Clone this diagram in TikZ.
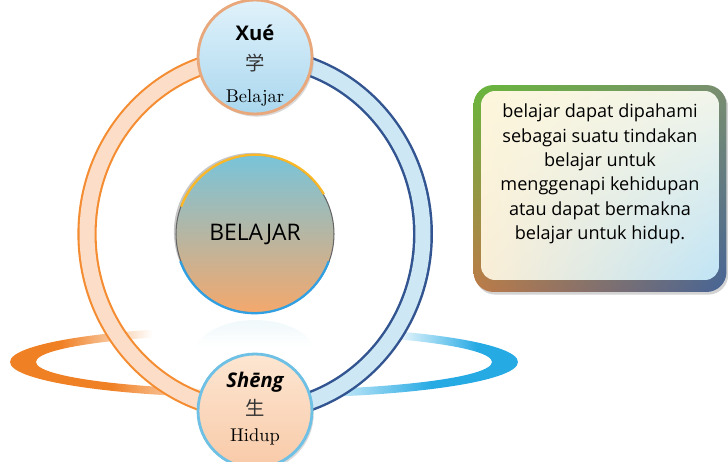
\documentclass[tikz,border=0pt]{standalone}
\usepackage{fontspec}
\usepackage{tikz}
\usetikzlibrary{positioning, shadows, shadings, backgrounds, calc}
\newfontfamily\comicfont{Open Sans}
\newfontfamily\hanzifont{Noto Sans CJK SC}

\definecolor{ringOrangeD}{RGB}{244,140,50}
\definecolor{ringOrangeL}{RGB}{252,222,200}
\definecolor{ringBlueD}{RGB}{50,84,144}
\definecolor{ringBlueL}{RGB}{205,231,245}
\definecolor{orbitL}{RGB}{240,128,36}
\definecolor{orbitR}{RGB}{38,170,228}
\definecolor{hubTop}{RGB}{120,196,218}
\definecolor{hubMid}{RGB}{212,184,160}
\definecolor{hubBot}{RGB}{244,168,108}
\definecolor{hubArcTop}{RGB}{250,184,40}
\definecolor{hubArcBot}{RGB}{48,160,226}
\definecolor{xueTop}{RGB}{224,242,251}
\definecolor{xueBot}{RGB}{170,215,238}
\definecolor{xueRim}{RGB}{232,168,124}
\definecolor{shengTop}{RGB}{253,230,210}
\definecolor{shengBot}{RGB}{248,202,168}
\definecolor{shengRim}{RGB}{110,192,228}
\definecolor{frameUL}{RGB}{104,182,60}
\definecolor{frameUR}{RGB}{122,142,112}
\definecolor{frameLL}{RGB}{190,122,72}
\definecolor{frameLR}{RGB}{70,100,150}
\definecolor{panelUL}{RGB}{253,246,220}
\definecolor{panelUR}{RGB}{242,245,234}
\definecolor{panelLL}{RGB}{250,238,214}
\definecolor{panelLR}{RGB}{192,228,246}

\pgfdeclarehorizontalshading{orbitTL}{100bp}{color(0bp)=(orbitL); color(35bp)=(orbitL); color(53bp)=(white); color(100bp)=(white)}
\pgfdeclarehorizontalshading{orbitBL}{100bp}{color(0bp)=(orbitL); color(45bp)=(orbitL); color(66bp)=(white); color(100bp)=(white)}
\pgfdeclarehorizontalshading{orbitTR}{100bp}{color(0bp)=(white); color(50bp)=(white); color(67bp)=(orbitR); color(100bp)=(orbitR)}
\pgfdeclarehorizontalshading{orbitBR}{100bp}{color(0bp)=(white); color(33bp)=(white); color(58bp)=(orbitR); color(100bp)=(orbitR)}

\begin{document}
\begin{tikzpicture}[x=0.02cm, y=0.02cm,
  badge/.style={circle, minimum size=2.28cm, inner sep=0pt, line width=1.6pt,
    drop shadow={opacity=0.3, shadow xshift=1pt, shadow yshift=-1.5pt}},
  pinyin/.style={font=\comicfont\bfseries\fontsize{11.5}{13}\selectfont},
  hanzi/.style={font=\hanzifont\fontsize{11}{12}\selectfont, text=black!80},
  gloss/.style={font=\fontsize{10.5}{12}\selectfont},
  ringL/.style={draw=ringOrangeD, double=ringOrangeL, double distance=0.3cm, line width=1.2pt},
  ringR/.style={draw=ringBlueD, double=ringBlueL, double distance=0.3cm, line width=1.4pt},
  hub/.style={circle, minimum size=3.16cm, inner sep=0pt, draw=black!60, line width=0.6pt,
    top color=hubTop, middle color=hubMid, bottom color=hubBot,
    font=\comicfont\fontsize{13}{15}\selectfont,
    drop shadow={opacity=0.45, shadow xshift=-1.2pt, shadow yshift=1.2pt}},
  noteframe/.style={rounded corners=0.4cm, minimum width=5.06cm, minimum height=4.14cm,
    upper left=frameUL, upper right=frameUR, lower left=frameLL, lower right=frameLR,
    drop shadow={opacity=0.35, shadow xshift=1pt, shadow yshift=-1.5pt}},
  notepanel/.style={rounded corners=0.28cm, minimum width=4.76cm, minimum height=3.78cm,
    upper left=panelUL, upper right=panelUR, lower left=panelLL, lower right=panelLR},
  notetext/.style={align=center, font=\comicfont\fontsize{10.3}{13.9}\selectfont}]
  \useasboundingbox (0,0) rectangle (728,461);

  \node[badge, draw=xueRim, top color=xueTop, bottom color=xueBot] (xue) at (255,404) {};
  \node[pinyin] (xuepy) at ([yshift=0.48cm]xue.center) {Xué};
  \node[hanzi] (xuehz) at ([yshift=-0.12cm]xue.center) {学};
  \node[gloss] (xuegl) at ([yshift=-0.82cm]xue.center) {Belajar};

  \node[badge, draw=shengRim, top color=shengTop, bottom color=shengBot] (sheng) at (255,50) {};
  \node[pinyin, font=\comicfont\bfseries\itshape\fontsize{11.5}{13}\selectfont] (shengpy) at ([yshift=0.58cm]sheng.center) {Shēng};
  \node[hanzi] (shenghz) at ([yshift=0.06cm]sheng.center) {生};
  \node[gloss] (shenggl) at ([yshift=-0.52cm]sheng.center) {Hidup};

  \node[hub] (hub) at (255,227) {BELAJAR};
  \draw[hubArcTop, line width=1.3pt] (hub.30) arc[start angle=30, end angle=160, radius=79];
  \draw[hubArcBot, line width=1.3pt] (hub.200) arc[start angle=200, end angle=340, radius=79];

  \node[noteframe] (note) at (600,272.5) {};
  \node[notepanel] (notein) at ([yshift=0.06cm]note.center) {};
  \node[notetext] (notetxt) at ([yshift=0.29cm]note.center) {belajar dapat dipahami\\sebagai suatu tindakan\\belajar untuk\\menggenapi kehidupan\\atau dapat bermakna\\belajar untuk hidup.};

  \begin{pgfonlayer}{background}
    \shade[shading=orbitTL] (264,135) arc[start angle=90, end angle=180, x radius=254, y radius=36]
      -- (36,99) arc[start angle=180, end angle=90, x radius=228, y radius=28] -- cycle;
    \shade[shading=orbitBL] (10,99) arc[start angle=180, end angle=270, x radius=254, y radius=36]
      -- (264,71) arc[start angle=270, end angle=180, x radius=228, y radius=28] -- cycle;
    \shade[shading=orbitTR] (264,135) arc[start angle=90, end angle=0, x radius=254, y radius=36]
      -- (492,99) arc[start angle=0, end angle=90, x radius=228, y radius=28] -- cycle;
    \shade[shading=orbitBR] (518,99) arc[start angle=0, end angle=-90, x radius=254, y radius=36]
      -- (264,71) arc[start angle=-90, end angle=0, x radius=228, y radius=28] -- cycle;
    \shade[top color=hubTop!40, bottom color=white, opacity=0.35] (195,114) .. controls (215,150) and (295,150) .. (315,114) -- cycle;
    \draw[ringL] (xue.center) arc[start angle=90, end angle=270, x radius=168, y radius=177];
    \draw[ringR] (xue.center) arc[start angle=90, end angle=-90, x radius=168, y radius=177];
  \end{pgfonlayer}
\end{tikzpicture}
\end{document}
